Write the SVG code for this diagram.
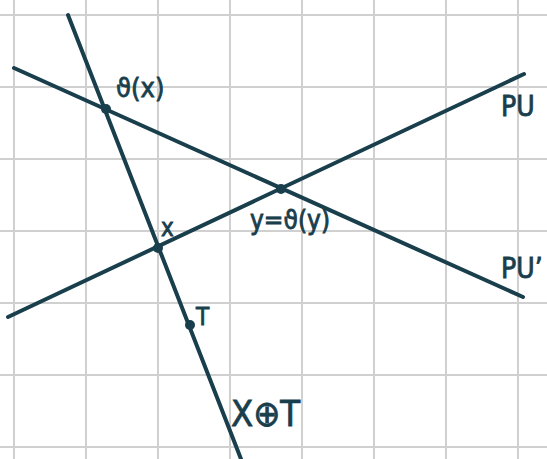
<svg xmlns="http://www.w3.org/2000/svg" width="547" height="459" viewBox="0 0 547 459">
<style>
.grid line{stroke:#d0d0d0;stroke-width:2}
.ln{stroke:#193e4c;stroke-width:4;stroke-linecap:round;fill:none}
.pt{fill:#193e4c}
.lb{font-family:"DejaVu Sans Condensed","DejaVu Sans","Liberation Sans",sans-serif;fill:#193e4c;stroke:#193e4c;stroke-width:0.8}
</style>
<rect width="547" height="459" fill="#ffffff"/>
<g class="grid">
<line x1="14" y1="0" x2="14" y2="459"/>
<line x1="86" y1="0" x2="86" y2="459"/>
<line x1="158" y1="0" x2="158" y2="459"/>
<line x1="230" y1="0" x2="230" y2="459"/>
<line x1="302" y1="0" x2="302" y2="459"/>
<line x1="374" y1="0" x2="374" y2="459"/>
<line x1="446" y1="0" x2="446" y2="459"/>
<line x1="518" y1="0" x2="518" y2="459"/>
<line x1="0" y1="15" x2="547" y2="15"/>
<line x1="0" y1="87" x2="547" y2="87"/>
<line x1="0" y1="159" x2="547" y2="159"/>
<line x1="0" y1="231" x2="547" y2="231"/>
<line x1="0" y1="303" x2="547" y2="303"/>
<line x1="0" y1="375" x2="547" y2="375"/>
<line x1="0" y1="447" x2="547" y2="447"/>
</g>
<g id="connectors">
<line class="ln" x1="68" y1="15" x2="241" y2="459"/>
<line class="ln" x1="14" y1="68" x2="523" y2="297"/>
<line class="ln" x1="8" y1="317" x2="524" y2="74"/>
</g>
<g id="node-vx">
<circle class="pt" cx="106" cy="109" r="5"/>
<text class="lb" x="116" y="97" font-size="27">ϑ(x)</text>
</g>
<g id="node-x">
<circle class="pt" cx="158" cy="248" r="5"/>
<text class="lb" x="161" y="236" font-size="24">x</text>
</g>
<g id="node-y">
<circle class="pt" cx="281" cy="189" r="5"/>
<text class="lb" x="250" y="229" font-size="26">y=ϑ(y)</text>
</g>
<g id="node-T">
<circle class="pt" cx="190" cy="325" r="5"/>
<text class="lb" x="196" y="325" font-size="24">T</text>
</g>
<g id="node-XT">
<text class="lb" x="231" y="426" font-size="36">X⊕T</text>
</g>
<g id="node-PU">
<text class="lb" x="501" y="116" font-size="28">PU</text>
</g>
<g id="node-PU2">
<text class="lb" x="501" y="278" font-size="28">PU’</text>
</g>
</svg>
